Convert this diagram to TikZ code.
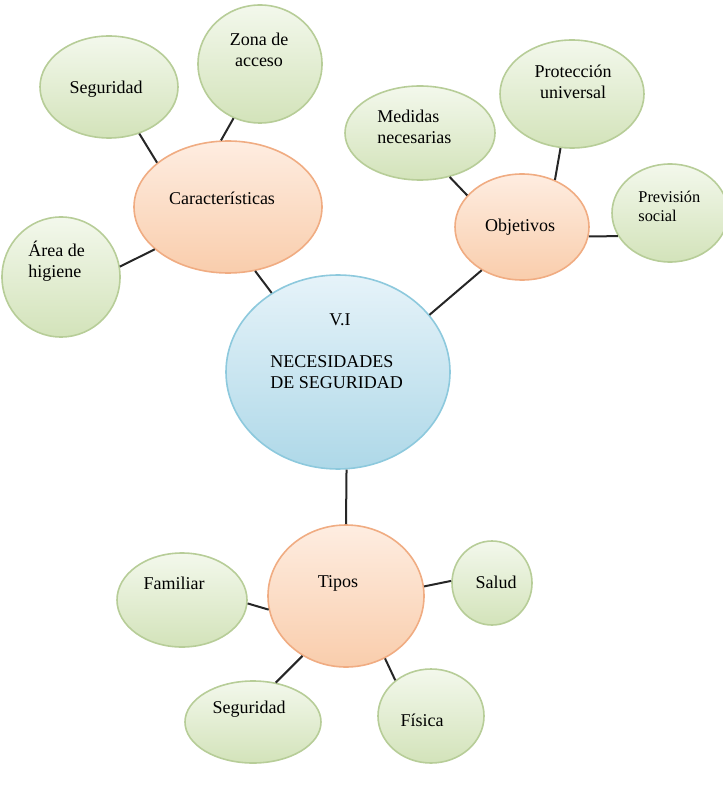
\documentclass[tikz,border=0pt]{standalone}
\usepackage{fontspec}
\setmainfont{Liberation Serif}
\usetikzlibrary{shapes.geometric}
\definecolor{leafTop}{HTML}{F3F8EC}
\definecolor{leafBot}{HTML}{D3E3BA}
\definecolor{leafLine}{HTML}{B7CD98}
\definecolor{topicTop}{HTML}{FEEDE1}
\definecolor{topicBot}{HTML}{F9CDAC}
\definecolor{topicLine}{HTML}{F0AC82}
\definecolor{hubTop}{HTML}{E6F3F9}
\definecolor{hubBot}{HTML}{AED8E8}
\definecolor{hubLine}{HTML}{8DC9DD}
\begin{document}
\begin{tikzpicture}[x=0.5pt, y=-0.5pt,
  leaf/.style={ellipse, draw=leafLine, line width=0.8pt, top color=leafTop, bottom color=leafBot, inner sep=0pt},
  topic/.style={ellipse, draw=topicLine, line width=0.8pt, top color=topicTop, bottom color=topicBot, inner sep=0pt},
  hub/.style={ellipse, draw=hubLine, line width=0.8pt, top color=hubTop, bottom color=hubBot, inner sep=0pt},
  lbl/.style={font=\fontsize{9}{10.5}\selectfont, align=center, inner sep=0pt},
  link/.style={line width=1pt, black!85}]
  \useasboundingbox (0,0) rectangle (722,796);
  % centre
  \node[hub, minimum width=112pt, minimum height=97pt] (ctr) at (338,372) {};
  \node[lbl] (t-vi) at (340,320) {V.I};
  \node[lbl, align=left, anchor=west] (t-ctr) at (270,372) {NECESIDADES\\DE SEGURIDAD};
  % caracteristicas
  \node[topic, minimum width=94pt, minimum height=66pt] (car) at (228,207) {};
  \node[lbl] (t-car) at (222,198) {Características};
  \node[leaf, minimum width=69pt, minimum height=51pt] (seg1) at (109,87) {};
  \node[lbl] (t-seg1) at (106,89) {Seguridad};
  \node[leaf, minimum width=62pt, minimum height=59pt] (zona) at (260,64) {};
  \node[lbl] (t-zona) at (259,50) {Zona de\\acceso};
  \node[leaf, minimum width=59pt, minimum height=60pt] (area) at (61,277) {};
  \node[lbl, align=left, anchor=west] (t-area) at (28,261) {Área de\\higiene};
  % objetivos
  \node[topic, minimum width=67pt, minimum height=53pt] (obj) at (522,227) {};
  \node[lbl] (t-obj) at (520,227) {Objetivos};
  \node[leaf, minimum width=75pt, minimum height=47pt] (med) at (420,133) {};
  \node[lbl, align=left, anchor=west] (t-med) at (377,127) {Medidas\\necesarias};
  \node[leaf, minimum width=72pt, minimum height=54pt] (prot) at (572,94) {};
  \node[lbl] (t-prot) at (573,82) {Protección\\universal};
  \node[leaf, minimum width=58pt, minimum height=49pt] (prev) at (670,213) {};
  \node[lbl, font=\fontsize{8.2}{9.5}\selectfont, align=left, anchor=west] (t-prev) at (638,206) {Previsión\\social};
  % tipos
  \node[topic, minimum width=78pt, minimum height=71pt] (tip) at (346,596) {};
  \node[lbl] (t-tip) at (338,583) {Tipos};
  \node[leaf, minimum width=65pt, minimum height=47pt] (fam) at (182,600) {};
  \node[lbl] (t-fam) at (174,583) {Familiar};
  \node[leaf, minimum width=68pt, minimum height=41pt] (seg2) at (253,722) {};
  \node[lbl] (t-seg2) at (249,709) {Seguridad};
  \node[leaf, minimum width=53pt, minimum height=47pt] (fis) at (431,716) {};
  \node[lbl] (t-fis) at (422,720) {Física};
  \node[leaf, minimum width=40pt, minimum height=42pt] (sal) at (492,583) {};
  \node[lbl] (t-sal) at (496,582) {Salud};
  % links
  \draw[link] (seg1.303) -- (car.148);
  \draw[link] (zona.244) -- (car.96);
  \draw[link] (area.10) -- (car.210);
  \draw[link] (car.293) -- (ctr.130);
  \draw[link] (med.304) -- (obj.150);
  \draw[link] (prot.258) -- (obj.55);
  \draw[link] (obj.352) -- (prev.204);
  \draw[link] (obj.227) -- (ctr.32);
  \draw[link] (ctr.275) -- (tip.north);
  \draw[link] (fam.357) -- (tip.190);
  \draw[link] (tip.7) -- (sal.177);
  \draw[link] (tip.234) -- (seg2.60);
  \draw[link] (tip.302) -- (fis.135);
\end{tikzpicture}
\end{document}
